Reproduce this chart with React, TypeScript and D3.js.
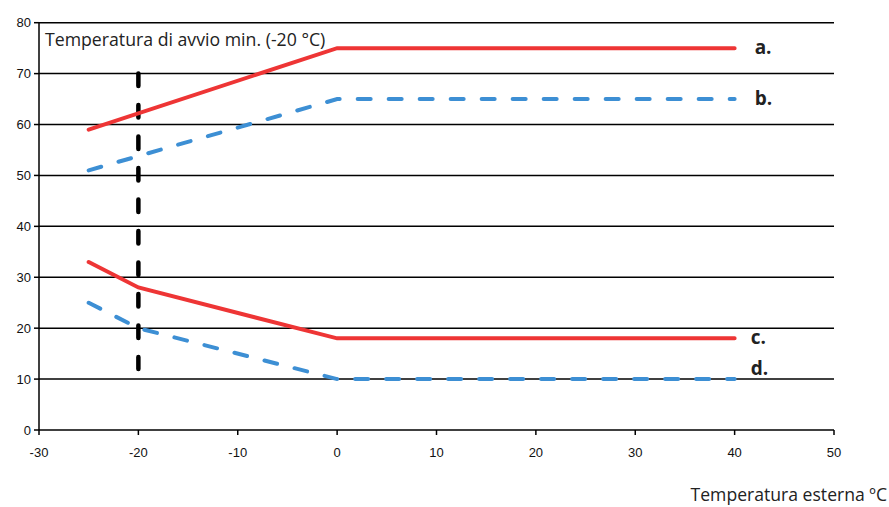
import React from "react";
import * as d3 from "d3";

const xTicks = [-30, -20, -10, 0, 10, 20, 30, 40, 50];
const yTicks = [0, 10, 20, 30, 40, 50, 60, 70, 80];

const seriesA = [[-25, 59], [0, 75], [40, 75]];
const seriesB = [[-25, 51], [0, 65], [40, 65]];
const seriesC = [[-25, 33], [-20, 28], [0, 18], [40, 18]];
const seriesD = [[-25, 25], [-20, 20], [0, 10], [40, 10]];
const markerLine = [[-20, 70], [-20, 12]];

const seriesLabels = ["a.", "b.", "c.", "d."];
const labelValues = [75, 65, 18, 10];
const annotation = "Temperatura di avvio min. (-20 °C)";
const xTitle = "Temperatura esterna ºC";

const W = 889;
const H = 507;

export default function App() {
  const x = d3.scaleLinear().domain([-30, 50]).range([39, 834]);
  const y = d3.scaleLinear().domain([0, 80]).range([430, 22.7]);
  const line = d3
    .line<number[]>()
    .x((d) => x(d[0]))
    .y((d) => y(d[1]));

  const red = "#ee3535";
  const blue = "#3d8fd4";
  const tickFont = "'Liberation Sans', Arial, sans-serif";
  const textFont = "'Open Sans', 'Noto Sans', sans-serif";

  return (
    <svg
      width={W}
      height={H}
      style={{ position: "absolute", left: 0, top: 0, background: "#fff" }}
    >
      {/* gridlines */}
      {yTicks.map((t) => (
        <line
          key={"g" + t}
          x1={x(-30)}
          x2={x(50)}
          y1={y(t)}
          y2={y(t)}
          stroke="#000"
          strokeWidth={1.5}
        />
      ))}
      {/* y axis */}
      <line x1={x(-30)} x2={x(-30)} y1={y(0)} y2={y(80)} stroke="#000" strokeWidth={1.5} />
      {yTicks.map((t) => (
        <g key={"yt" + t}>
          <line x1={x(-30) - 5} x2={x(-30)} y1={y(t)} y2={y(t)} stroke="#000" strokeWidth={1.5} />
          <text
            x={x(-30) - 8}
            y={y(t) + 4.5}
            textAnchor="end"
            fontSize={13}
            fontFamily={tickFont}
            fill="#111"
          >
            {t}
          </text>
        </g>
      ))}
      {/* x axis ticks */}
      {xTicks.map((t) => (
        <g key={"xt" + t}>
          <line x1={x(t)} x2={x(t)} y1={y(0)} y2={y(0) + 5} stroke="#000" strokeWidth={1.5} />
          <text
            x={x(t)}
            y={457}
            textAnchor="middle"
            fontSize={13}
            fontFamily={tickFont}
            fill="#111"
          >
            {t}
          </text>
        </g>
      ))}
      {/* marker line */}
      <path
        d={line(markerLine as any) || ""}
        fill="none"
        stroke="#000"
        strokeWidth={4.5}
        strokeDasharray="12.5 19"
        strokeLinecap="round"
      />
      {/* series */}
      <path d={line(seriesA as any) || ""} fill="none" stroke={red} strokeWidth={4} strokeLinecap="round" />
      <path
        d={line(seriesB as any) || ""}
        fill="none"
        stroke={blue}
        strokeWidth={4}
        strokeDasharray="13 18"
        strokeLinecap="round"
      />
      <path d={line(seriesC as any) || ""} fill="none" stroke={red} strokeWidth={4} strokeLinecap="round" />
      <path
        d={line(seriesD as any) || ""}
        fill="none"
        stroke={blue}
        strokeWidth={4}
        strokeDasharray="13 18"
        strokeLinecap="round"
      />
      {/* series labels */}
      {seriesLabels.map((s, i) => (
        <text
          key={s}
          x={x(40) + (i < 2 ? 20 : 16)}
          y={y(labelValues[i]) + (i === 3 ? -4 : 6)}
          fontSize={19}
          fontWeight="bold"
          fontFamily={textFont}
          fill="#222"
        >
          {s}
        </text>
      ))}
      {/* annotation */}
      <text x={45} y={46} fontSize={17.7} fontFamily={textFont} fill="#222">
        {annotation}
      </text>
      {/* x title */}
      <text x={887} y={501} textAnchor="end" fontSize={17.6} fontFamily={textFont} fill="#222">
        {xTitle}
      </text>
    </svg>
  );
}
